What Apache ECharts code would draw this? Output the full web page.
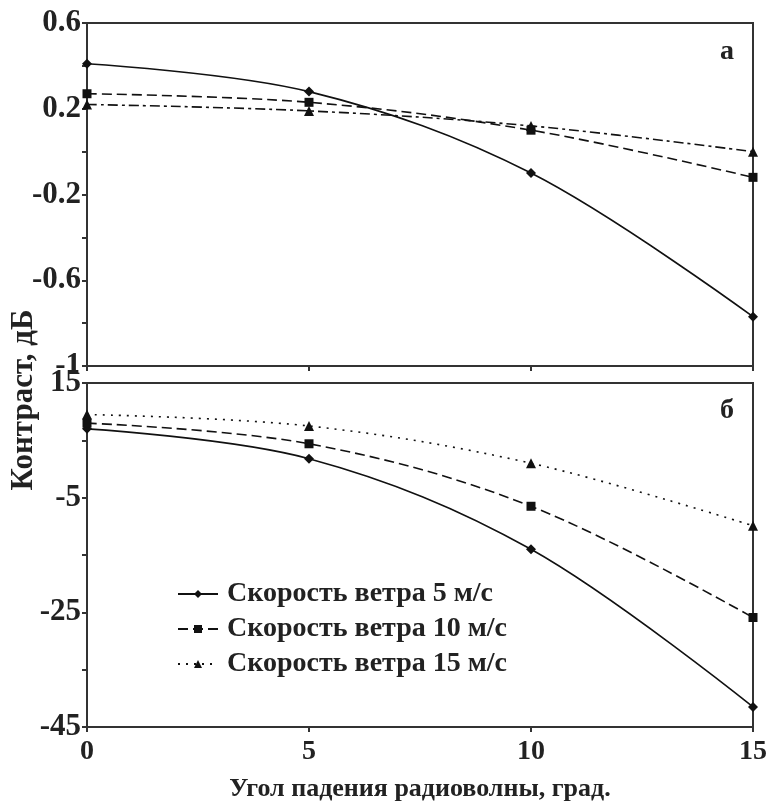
<!doctype html>
<html>
	<head>
		<meta charset="utf-8">
		<title>Контраст</title>
		<script src="https://cdn.jsdelivr.net/npm/echarts@6/dist/echarts.min.js"></script>
		<style>
			html, body {
				margin: 0;
				padding: 0;
				background: #fff;
			}
			#chart {
				width: 771px;
				height: 801px;
			}
		</style>
	</head>

	<body>
		<div id="chart"></div>
	</body>

	<script type="text/javascript">
		//угол падения (ось X)
		var angles = [0, 5, 10, 15];
		//названия серий
		var seriesNames = ['Скорость ветра 5 м/с', 'Скорость ветра 10 м/с', 'Скорость ветра 15 м/с'];
		//панель а
		var topV5 = [0.41, 0.28, -0.10, -0.77];
		var topV10 = [0.27, 0.23, 0.10, -0.12];
		var topV15 = [0.22, 0.19, 0.12, 0.00];
		//панель б
		var botV5 = [7.0, 1.8, -14.0, -41.5];
		var botV10 = [8.0, 4.4, -6.5, -25.9];
		var botV15 = [9.5, 7.5, 1.0, -9.9];
		//подписи осей
		var xTickLabels = [0, 5, 10, 15];
		var topTicks = [0.6, 0.2, -0.2, -0.6, -1];
		var botTicks = [15, 5, -5, -15, -25, -35, -45];
		var botTickLabels = [15, -5, -25, -45];

		var font = 'Liberation Serif';
		var ink = '#222';

		var pairs = function(ys) {
			return ys.map(function(y, i) {
				return [angles[i], y];
			});
		};

		var axisLine = { show: true, onZero: false, lineStyle: { color: '#333', width: 2 } };
		var axisTick = { show: true, inside: false, length: 5, lineStyle: { color: '#333', width: 2 } };
		var xLabelStyle = { fontFamily: font, fontWeight: 'bold', fontSize: 28, color: ink };
		var yLabelStyle = { fontFamily: font, fontWeight: 'bold', fontSize: 31, color: ink };

		var lineSeries = function(name, data, idx, symbol, size, dash) {
			return {
				name: name,
				type: 'line',
				xAxisIndex: idx,
				yAxisIndex: idx,
				data: data,
				smooth: 0.35,
				symbol: symbol,
				symbolSize: size,
				itemStyle: { color: '#111' },
				lineStyle: { color: '#111', width: 1.6, type: dash },
				emphasis: { disabled: true },
				z: 3
			};
		};

		var chart = echarts.init(document.getElementById('chart'));

		chart.setOption({
			animation: false,
			backgroundColor: '#fff',
			grid: [{
				left: 87, top: 23, width: 666, height: 343,
				outerBoundsMode: 'none',
				show: true, borderColor: '#333', borderWidth: 2
			}, {
				left: 87, top: 383, width: 666, height: 344,
				outerBoundsMode: 'none',
				show: true, borderColor: '#333', borderWidth: 2
			}],
			xAxis: [{
				gridIndex: 0, type: 'value', min: 0, max: 15, interval: 5,
				axisLine: axisLine, axisTick: axisTick,
				axisLabel: { show: false },
				splitLine: { show: false }
			}, {
				gridIndex: 1, type: 'value', min: 0, max: 15, interval: 5,
				axisLine: axisLine, axisTick: axisTick,
				axisLabel: Object.assign({ margin: 11, customValues: xTickLabels }, xLabelStyle),
				splitLine: { show: false },
				name: 'Угол падения радиоволны, град.',
				nameLocation: 'middle',
				nameGap: 62,
				nameMoveOverlap: false,
				nameTextStyle: {
					fontFamily: font, fontWeight: 'bold', fontSize: 26, color: ink,
					verticalAlign: 'middle'
				}
			}],
			yAxis: [{
				gridIndex: 0, type: 'value', min: -1, max: 0.6, interval: 0.2,
				axisLine: axisLine,
				axisTick: Object.assign({}, axisTick),
				axisLabel: Object.assign({
					margin: 6,
					customValues: topTicks,
					formatter: function(v) { return String(Math.round(v * 10) / 10); }
				}, yLabelStyle),
				splitLine: { show: false }
			}, {
				gridIndex: 1, type: 'value', min: -45, max: 15,
				axisLine: axisLine,
				axisTick: Object.assign({ customValues: botTicks }, axisTick),
				axisLabel: Object.assign({ margin: 6, customValues: botTickLabels }, yLabelStyle),
				splitLine: { show: false }
			}],
			legend: {
				orient: 'vertical',
				left: 172,
				top: 575,
				itemWidth: 40,
				itemHeight: 10,
				itemGap: 7,
				data: seriesNames,
				textStyle: {
					fontFamily: font, fontWeight: 'bold', fontSize: 28, color: ink,
					padding: [0, 0, 0, 4]
				}
			},
			graphic: [{
				type: 'text', left: 720, top: 38,
				style: { text: 'а', fontFamily: font, fontWeight: 'bold', fontSize: 28, fill: ink }
			}, {
				type: 'text', left: 720, top: 397,
				style: { text: 'б', fontFamily: font, fontWeight: 'bold', fontSize: 28, fill: ink }
			}, {
				type: 'text', x: 8, y: 400, rotation: Math.PI / 2,
				style: {
					text: 'Контраст, дБ', fontFamily: font, fontWeight: 'bold', fontSize: 31,
					fill: ink, align: 'center', verticalAlign: 'top'
				}
			}],
			series: [
				lineSeries(seriesNames[0], pairs(botV5), 1, 'diamond', 10, 'solid'),
				lineSeries(seriesNames[1], pairs(botV10), 1, 'rect', 9, [10, 5]),
				lineSeries(seriesNames[2], pairs(botV15), 1, 'triangle', 10, [2, 6]),
				lineSeries(seriesNames[0], pairs(topV5), 0, 'diamond', 10, 'solid'),
				lineSeries(seriesNames[1], pairs(topV10), 0, 'rect', 9, [10, 5]),
				lineSeries(seriesNames[2], pairs(topV15), 0, 'triangle', 10, [10, 4, 3, 4])
			]
		});
	</script>

</html>
